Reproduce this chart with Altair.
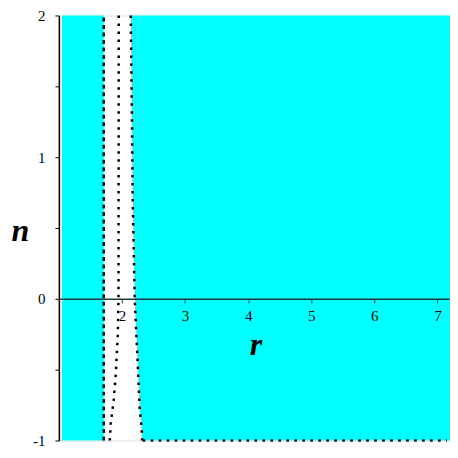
import altair as alt
import pandas as pd

# Domain
r_min, r_max = 1.0, 7.2
n_min, n_max = -1.0, 2.0

# Left cyan strip
left_r0, left_r1 = 1.047, 1.71

# Right boundary curve (dotted) -- region to its right is shaded
right_n = [2.0, 1.2, 0.7, 0.0, -0.31, -0.45, -0.62, -0.78, -0.92, -1.0]
right_r = [2.139, 2.160, 2.170, 2.202, 2.234, 2.249, 2.265, 2.281, 2.313, 2.32]

# Middle dotted curve
mid_n = [2.0, 0.0, -0.26, -0.535, -0.711, -0.88, -1.0]
mid_r = [1.949, 1.945, 1.933, 1.901, 1.870, 1.822, 1.807]

# Left dashed line
dash_r = 1.71

# Bottom dotted line
bottom_r = [2.33, 7.15]

x_ticks = [2, 3, 4, 5, 6, 7]
y_ticks = [-1, -0.5, 0, 0.5, 1, 1.5, 2]

CYAN = "#00FFFF"
FONT = "Times New Roman"
TFONT = "Liberation Serif"

xs = alt.Scale(domain=[r_min, r_max], nice=False, zero=False)
ys = alt.Scale(domain=[n_min, n_max], nice=False, zero=False)

left_df = pd.DataFrame({"r": [left_r0], "r1": [left_r1], "n": [n_min], "n1": [n_max]})
right_df = pd.DataFrame({"n": right_n, "r": right_r, "rmax": [r_max] * len(right_n)})
mid_df = pd.DataFrame({"n": mid_n, "r": mid_r, "i": list(range(len(mid_n)))})
rline_df = pd.DataFrame({"n": right_n, "r": right_r, "i": list(range(len(right_n)))})
dash_df = pd.DataFrame({"n": [n_min, n_max], "r": [dash_r, dash_r], "i": [0, 1]})
bot_df = pd.DataFrame({"n": [n_min, n_min], "r": bottom_r, "i": [0, 1]})

x_axis = alt.Axis(
    values=x_ticks, title="r", offset=-142, zindex=1,
    domainColor="#1f3a3a", domainWidth=1.5,
    tickColor="#1f3a3a", tickSize=4, ticks=True, grid=False,
    labelFont=FONT, labelFontSize=15, labelColor="black", labelPadding=6,
    titleFont=TFONT, titleFontSize=32, titleFontStyle="italic", titleFontWeight="bold",
    titleColor="black", titleX=197, titleY=56, titleBaseline="alphabetic",
    titleAlign="center",
)
y_axis = alt.Axis(
    values=y_ticks, title="n", zindex=1,
    labelExpr="datum.value % 1 == 0 ? '' + datum.value : ''",
    domainColor="black", domainWidth=1.5,
    tickColor="black", tickSize=4, grid=False,
    labelFont=FONT, labelFontSize=15, labelColor="black", labelPadding=10,
    titleFont=TFONT, titleFontSize=32, titleFontStyle="italic", titleFontWeight="bold",
    titleColor="black", titleAngle=0, titleX=-39, titleY=226,
    titleBaseline="alphabetic", titleAlign="center",
)

X = alt.X("r:Q", scale=xs, axis=x_axis, title="r")
Y = alt.Y("n:Q", scale=ys, axis=y_axis, title="n")

left = alt.Chart(left_df).mark_rect(color=CYAN).encode(
    x=X, x2="r1:Q", y=Y, y2="n1:Q",
)

right = alt.Chart(right_df).mark_area(color=CYAN, orient="horizontal", opacity=1).encode(
    y=Y, x=X, x2="rmax:Q",
)

def dotted(df, dash, width):
    return alt.Chart(df).mark_line(color="black", strokeDash=dash, strokeWidth=width,
                                   strokeCap="butt").encode(
        x=X, y=Y, order="i:Q",
    )

chart = alt.layer(
    left, right,
    dotted(dash_df, [4, 3.5], 2.5),
    dotted(mid_df, [2.5, 5.5], 2.5),
    dotted(rline_df, [2.5, 5.5], 2.5),
    dotted(bot_df, [2.5, 5.5], 2.5),
).properties(
    width=392, height=426,
    autosize=alt.AutoSizeParams(type="none"),
    padding={"left": 51, "top": 7, "right": 0, "bottom": 10},
).configure_view(stroke=None).configure(background="white", font=TFONT)

chart.save("out.html", embed_options={"renderer": "svg", "actions": False})
